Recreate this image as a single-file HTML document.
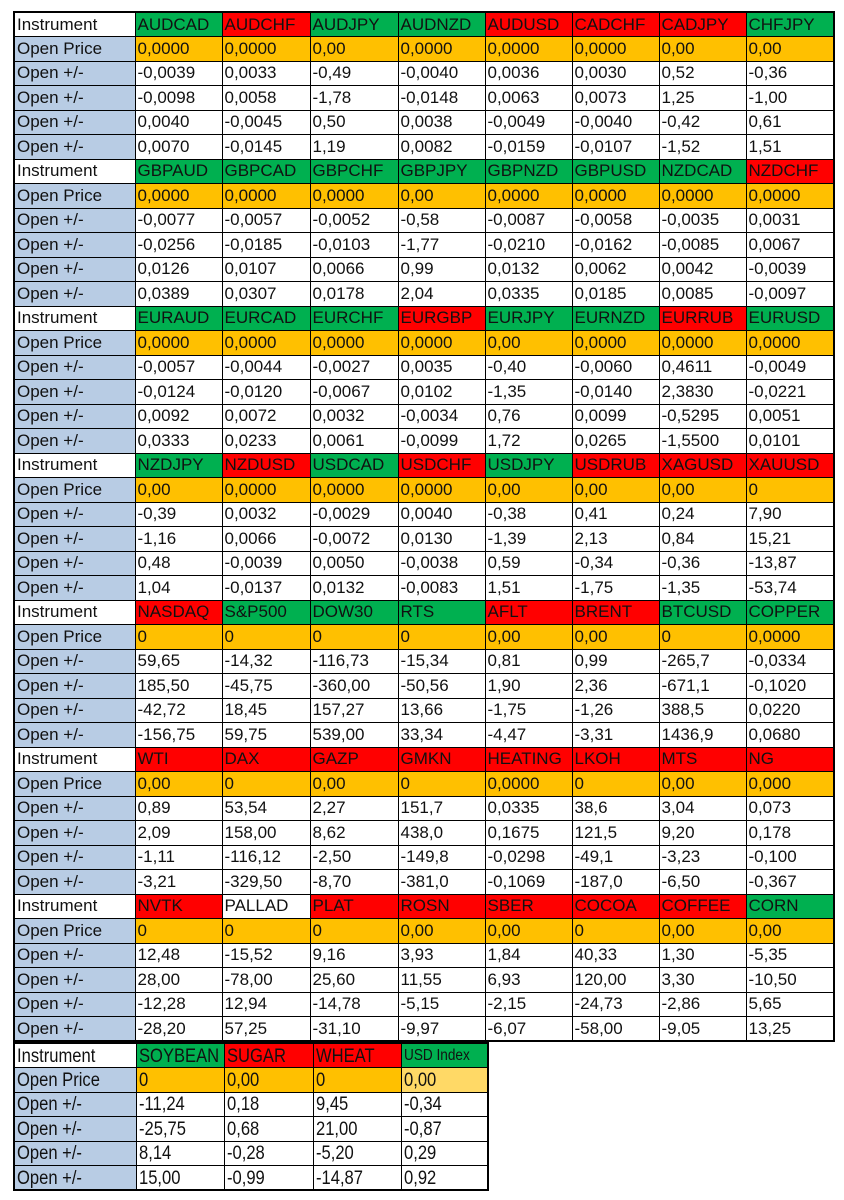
<!DOCTYPE html>
<html><head><meta charset="utf-8"><style>
html,body{margin:0;padding:0;background:#fff;width:844px;height:1200px;overflow:hidden}
table{position:absolute;left:13px;border-collapse:collapse;table-layout:fixed;font-family:"Liberation Sans",Arial,sans-serif;font-size:17px;color:#111;border:2px solid #000}
#t1{top:11px;width:820px}
#t2{top:1042px;width:476px}
td{border:1px solid #000;height:22.5px;padding:0 0 0 2px;white-space:nowrap;overflow:hidden;line-height:22px}
tr{height:24.5px}
td:first-child{background:#b8cce4}
tr.h td:first-child{background:#fff}
.g{background:#00b050}.r{background:#ff0000}.o{background:#ffc000}.y{background:#ffd966}
#t2 td span{display:inline-block;transform:scaleX(0.85);transform-origin:left}
#t2 td{font-size:19.5px}
</style></head><body>
<table id="t1">
<colgroup><col style="width:121px"><col style="width:87px"><col style="width:88px"><col style="width:88px"><col style="width:87px"><col style="width:87px"><col style="width:87px"><col style="width:87px"><col style="width:88px"></colgroup>
<tr class="h"><td>Instrument</td><td class="g">AUDCAD</td><td class="r">AUDCHF</td><td class="g">AUDJPY</td><td class="g">AUDNZD</td><td class="r">AUDUSD</td><td class="r">CADCHF</td><td class="r">CADJPY</td><td class="g">CHFJPY</td></tr>
<tr><td>Open Price</td><td class="o">0,0000</td><td class="o">0,0000</td><td class="o">0,00</td><td class="o">0,0000</td><td class="o">0,0000</td><td class="o">0,0000</td><td class="o">0,00</td><td class="o">0,00</td></tr>
<tr><td>Open +/-</td><td>-0,0039</td><td>0,0033</td><td>-0,49</td><td>-0,0040</td><td>0,0036</td><td>0,0030</td><td>0,52</td><td>-0,36</td></tr>
<tr><td>Open +/-</td><td>-0,0098</td><td>0,0058</td><td>-1,78</td><td>-0,0148</td><td>0,0063</td><td>0,0073</td><td>1,25</td><td>-1,00</td></tr>
<tr><td>Open +/-</td><td>0,0040</td><td>-0,0045</td><td>0,50</td><td>0,0038</td><td>-0,0049</td><td>-0,0040</td><td>-0,42</td><td>0,61</td></tr>
<tr><td>Open +/-</td><td>0,0070</td><td>-0,0145</td><td>1,19</td><td>0,0082</td><td>-0,0159</td><td>-0,0107</td><td>-1,52</td><td>1,51</td></tr>
<tr class="h"><td>Instrument</td><td class="g">GBPAUD</td><td class="g">GBPCAD</td><td class="g">GBPCHF</td><td class="g">GBPJPY</td><td class="g">GBPNZD</td><td class="g">GBPUSD</td><td class="g">NZDCAD</td><td class="r">NZDCHF</td></tr>
<tr><td>Open Price</td><td class="o">0,0000</td><td class="o">0,0000</td><td class="o">0,0000</td><td class="o">0,00</td><td class="o">0,0000</td><td class="o">0,0000</td><td class="o">0,0000</td><td class="o">0,0000</td></tr>
<tr><td>Open +/-</td><td>-0,0077</td><td>-0,0057</td><td>-0,0052</td><td>-0,58</td><td>-0,0087</td><td>-0,0058</td><td>-0,0035</td><td>0,0031</td></tr>
<tr><td>Open +/-</td><td>-0,0256</td><td>-0,0185</td><td>-0,0103</td><td>-1,77</td><td>-0,0210</td><td>-0,0162</td><td>-0,0085</td><td>0,0067</td></tr>
<tr><td>Open +/-</td><td>0,0126</td><td>0,0107</td><td>0,0066</td><td>0,99</td><td>0,0132</td><td>0,0062</td><td>0,0042</td><td>-0,0039</td></tr>
<tr><td>Open +/-</td><td>0,0389</td><td>0,0307</td><td>0,0178</td><td>2,04</td><td>0,0335</td><td>0,0185</td><td>0,0085</td><td>-0,0097</td></tr>
<tr class="h"><td>Instrument</td><td class="g">EURAUD</td><td class="g">EURCAD</td><td class="g">EURCHF</td><td class="r">EURGBP</td><td class="g">EURJPY</td><td class="g">EURNZD</td><td class="r">EURRUB</td><td class="g">EURUSD</td></tr>
<tr><td>Open Price</td><td class="o">0,0000</td><td class="o">0,0000</td><td class="o">0,0000</td><td class="o">0,0000</td><td class="o">0,00</td><td class="o">0,0000</td><td class="o">0,0000</td><td class="o">0,0000</td></tr>
<tr><td>Open +/-</td><td>-0,0057</td><td>-0,0044</td><td>-0,0027</td><td>0,0035</td><td>-0,40</td><td>-0,0060</td><td>0,4611</td><td>-0,0049</td></tr>
<tr><td>Open +/-</td><td>-0,0124</td><td>-0,0120</td><td>-0,0067</td><td>0,0102</td><td>-1,35</td><td>-0,0140</td><td>2,3830</td><td>-0,0221</td></tr>
<tr><td>Open +/-</td><td>0,0092</td><td>0,0072</td><td>0,0032</td><td>-0,0034</td><td>0,76</td><td>0,0099</td><td>-0,5295</td><td>0,0051</td></tr>
<tr><td>Open +/-</td><td>0,0333</td><td>0,0233</td><td>0,0061</td><td>-0,0099</td><td>1,72</td><td>0,0265</td><td>-1,5500</td><td>0,0101</td></tr>
<tr class="h"><td>Instrument</td><td class="g">NZDJPY</td><td class="r">NZDUSD</td><td class="g">USDCAD</td><td class="r">USDCHF</td><td class="g">USDJPY</td><td class="r">USDRUB</td><td class="r">XAGUSD</td><td class="r">XAUUSD</td></tr>
<tr><td>Open Price</td><td class="o">0,00</td><td class="o">0,0000</td><td class="o">0,0000</td><td class="o">0,0000</td><td class="o">0,00</td><td class="o">0,00</td><td class="o">0,00</td><td class="o">0</td></tr>
<tr><td>Open +/-</td><td>-0,39</td><td>0,0032</td><td>-0,0029</td><td>0,0040</td><td>-0,38</td><td>0,41</td><td>0,24</td><td>7,90</td></tr>
<tr><td>Open +/-</td><td>-1,16</td><td>0,0066</td><td>-0,0072</td><td>0,0130</td><td>-1,39</td><td>2,13</td><td>0,84</td><td>15,21</td></tr>
<tr><td>Open +/-</td><td>0,48</td><td>-0,0039</td><td>0,0050</td><td>-0,0038</td><td>0,59</td><td>-0,34</td><td>-0,36</td><td>-13,87</td></tr>
<tr><td>Open +/-</td><td>1,04</td><td>-0,0137</td><td>0,0132</td><td>-0,0083</td><td>1,51</td><td>-1,75</td><td>-1,35</td><td>-53,74</td></tr>
<tr class="h"><td>Instrument</td><td class="r">NASDAQ</td><td class="g">S&amp;P500</td><td class="g">DOW30</td><td class="g">RTS</td><td class="r">AFLT</td><td class="r">BRENT</td><td class="g">BTCUSD</td><td class="g">COPPER</td></tr>
<tr><td>Open Price</td><td class="o">0</td><td class="o">0</td><td class="o">0</td><td class="o">0</td><td class="o">0,00</td><td class="o">0,00</td><td class="o">0</td><td class="o">0,0000</td></tr>
<tr><td>Open +/-</td><td>59,65</td><td>-14,32</td><td>-116,73</td><td>-15,34</td><td>0,81</td><td>0,99</td><td>-265,7</td><td>-0,0334</td></tr>
<tr><td>Open +/-</td><td>185,50</td><td>-45,75</td><td>-360,00</td><td>-50,56</td><td>1,90</td><td>2,36</td><td>-671,1</td><td>-0,1020</td></tr>
<tr><td>Open +/-</td><td>-42,72</td><td>18,45</td><td>157,27</td><td>13,66</td><td>-1,75</td><td>-1,26</td><td>388,5</td><td>0,0220</td></tr>
<tr><td>Open +/-</td><td>-156,75</td><td>59,75</td><td>539,00</td><td>33,34</td><td>-4,47</td><td>-3,31</td><td>1436,9</td><td>0,0680</td></tr>
<tr class="h"><td>Instrument</td><td class="r">WTI</td><td class="r">DAX</td><td class="r">GAZP</td><td class="r">GMKN</td><td class="r">HEATING</td><td class="r">LKOH</td><td class="r">MTS</td><td class="r">NG</td></tr>
<tr><td>Open Price</td><td class="o">0,00</td><td class="o">0</td><td class="o">0,00</td><td class="o">0</td><td class="o">0,0000</td><td class="o">0</td><td class="o">0,00</td><td class="o">0,000</td></tr>
<tr><td>Open +/-</td><td>0,89</td><td>53,54</td><td>2,27</td><td>151,7</td><td>0,0335</td><td>38,6</td><td>3,04</td><td>0,073</td></tr>
<tr><td>Open +/-</td><td>2,09</td><td>158,00</td><td>8,62</td><td>438,0</td><td>0,1675</td><td>121,5</td><td>9,20</td><td>0,178</td></tr>
<tr><td>Open +/-</td><td>-1,11</td><td>-116,12</td><td>-2,50</td><td>-149,8</td><td>-0,0298</td><td>-49,1</td><td>-3,23</td><td>-0,100</td></tr>
<tr><td>Open +/-</td><td>-3,21</td><td>-329,50</td><td>-8,70</td><td>-381,0</td><td>-0,1069</td><td>-187,0</td><td>-6,50</td><td>-0,367</td></tr>
<tr class="h"><td>Instrument</td><td class="r">NVTK</td><td>PALLAD</td><td class="r">PLAT</td><td class="r">ROSN</td><td class="r">SBER</td><td class="r">COCOA</td><td class="r">COFFEE</td><td class="g">CORN</td></tr>
<tr><td>Open Price</td><td class="o">0</td><td class="o">0</td><td class="o">0</td><td class="o">0,00</td><td class="o">0,00</td><td class="o">0</td><td class="o">0,00</td><td class="o">0,00</td></tr>
<tr><td>Open +/-</td><td>12,48</td><td>-15,52</td><td>9,16</td><td>3,93</td><td>1,84</td><td>40,33</td><td>1,30</td><td>-5,35</td></tr>
<tr><td>Open +/-</td><td>28,00</td><td>-78,00</td><td>25,60</td><td>11,55</td><td>6,93</td><td>120,00</td><td>3,30</td><td>-10,50</td></tr>
<tr><td>Open +/-</td><td>-12,28</td><td>12,94</td><td>-14,78</td><td>-5,15</td><td>-2,15</td><td>-24,73</td><td>-2,86</td><td>5,65</td></tr>
<tr><td>Open +/-</td><td>-28,20</td><td>57,25</td><td>-31,10</td><td>-9,97</td><td>-6,07</td><td>-58,00</td><td>-9,05</td><td>13,25</td></tr>
</table>
<table id="t2">
<colgroup><col style="width:122px"><col style="width:88px"><col style="width:89px"><col style="width:88px"><col style="width:87px"></colgroup>
<tr class="h"><td><span>Instrument</span></td><td class="g"><span>SOYBEAN</span></td><td class="r"><span>SUGAR</span></td><td class="r"><span>WHEAT</span></td><td class="g" style="font-size:16px"><span>USD Index</span></td></tr>
<tr><td><span>Open Price</span></td><td class="o"><span>0</span></td><td class="o"><span>0,00</span></td><td class="o"><span>0</span></td><td class="y"><span>0,00</span></td></tr>
<tr><td><span>Open +/-</span></td><td><span>-11,24</span></td><td><span>0,18</span></td><td><span>9,45</span></td><td><span>-0,34</span></td></tr>
<tr><td><span>Open +/-</span></td><td><span>-25,75</span></td><td><span>0,68</span></td><td><span>21,00</span></td><td><span>-0,87</span></td></tr>
<tr><td><span>Open +/-</span></td><td><span>8,14</span></td><td><span>-0,28</span></td><td><span>-5,20</span></td><td><span>0,29</span></td></tr>
<tr><td><span>Open +/-</span></td><td><span>15,00</span></td><td><span>-0,99</span></td><td><span>-14,87</span></td><td><span>0,92</span></td></tr>
</table>
</body></html>
